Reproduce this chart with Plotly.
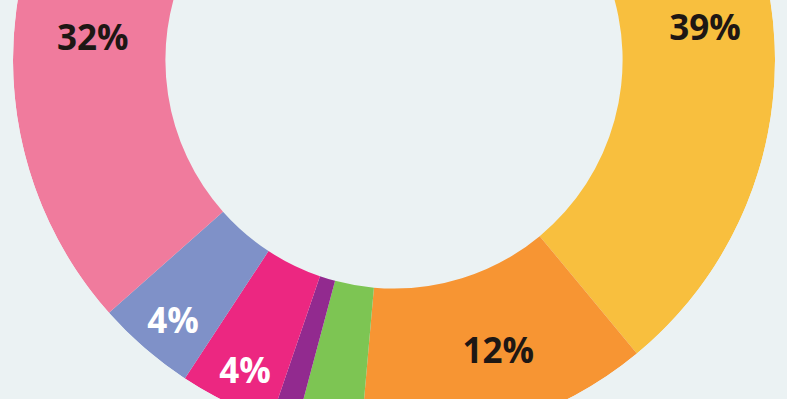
import plotly.graph_objects as go

# Slice data (clockwise from 12 o'clock), in percent
categories = ["A", "B", "C", "D", "E", "F", "G"]
values = [39, 12.4, 2.75, 1.1, 4.0, 4.2, 36.55]
colors = ["#F8BF3E", "#F79533", "#7DC553", "#922A8F", "#EC2781", "#7F91C8", "#F07B9D"]

# Labels shown on the ring
label_text = ["39%", "12%", "4%", "4%", "32%"]
label_theta = [84.7, 160.5, 205.4, 219.9, 273.6]
label_r = [0.82, 0.819, 0.912, 0.904, 0.792]
label_color = ["#1E1714", "#1E1714", "#FFFFFF", "#FFFFFF", "#1E1714"]

HOLE = 0.6
BG = "#EBF2F3"
W, H = 787, 800
SHIFT = 330
cx, cy, R = 394, 60 + SHIFT, 381
dom_x = [(cx - R) / W, (cx + R) / W]
dom_y = [(H - cy - R) / H, (H - cy + R) / H]

total = sum(values)
widths = [v / total * 360 for v in values]
mids = []
acc = 0
for w in widths:
    mids.append(acc + w / 2)
    acc += w

fig = go.Figure()
fig.add_trace(go.Barpolar(
    r=[1 - HOLE] * len(values), base=[HOLE] * len(values),
    theta=mids, width=widths, text=categories,
    marker=dict(color=colors, line=dict(width=0)),
    hoverinfo="skip", showlegend=False,
))
fig.add_trace(go.Scatterpolar(
    r=label_r, theta=label_theta, mode="text", text=label_text,
    textfont=dict(family="Open Sans", size=35, color=label_color, weight=700),
    hoverinfo="skip", showlegend=False,
))
fig.update_layout(
    width=W, height=H, margin=dict(l=0, r=0, t=0, b=0),
    paper_bgcolor=BG, plot_bgcolor=BG,
    polar=dict(
        domain=dict(x=dom_x, y=dom_y), bgcolor="rgba(0,0,0,0)", bargap=0,
        radialaxis=dict(range=[0, 1], visible=False, showgrid=False),
        angularaxis=dict(rotation=90, direction="clockwise", visible=False, showgrid=False),
    ),
)

post = (
    "document.documentElement.style.overflow='hidden';"
    "document.body.style.margin='0';"
    "document.body.style.overflow='hidden';"
    "document.body.style.background='" + BG + "';"
    "document.getElementById('{plot_id}').style.marginTop='-" + str(SHIFT) + "px';"
)
fig.write_html("out.html", post_script=post)
